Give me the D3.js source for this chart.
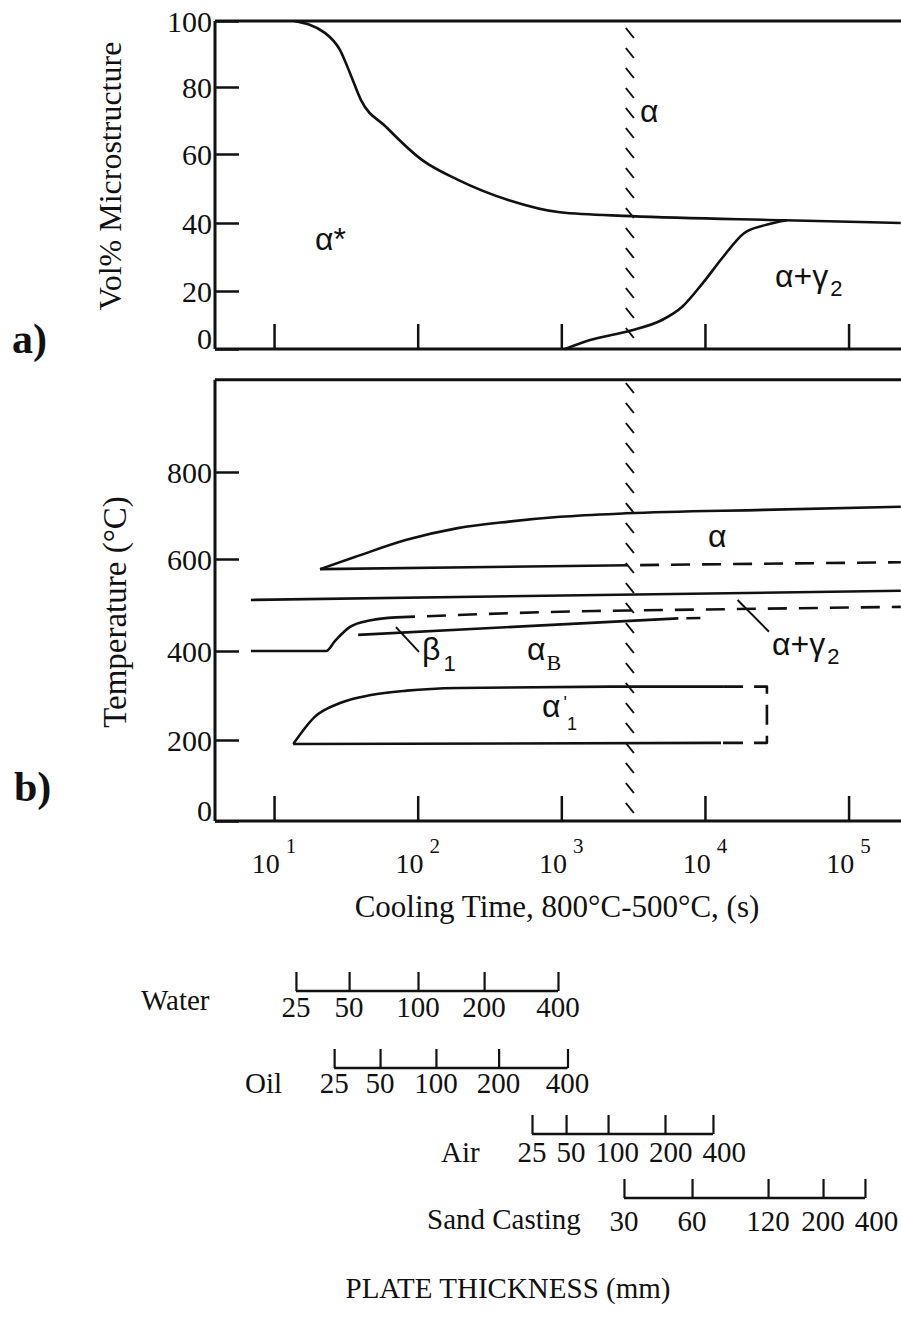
<!DOCTYPE html>
<html><head><meta charset="utf-8">
<script src="https://cdn.jsdelivr.net/npm/d3@7"></script>
<style>body{margin:0;background:#fff}</style>
</head><body>
<svg id="chart" width="901" height="1320"></svg>
<script>
// ---------------- data ----------------
const coolingTicks = [10, 100, 1000, 10000, 100000];
const coolingTickExponents = [1, 2, 3, 4, 5];
const volTicks = [0, 20, 40, 60, 80, 100];
const tempTicks = [0, 200, 400, 600, 800];
const markerTime = 3000;              // hatched vertical line (s)

// panel a) vol% microstructure
const alphaStarTime = [13.8, 22.6, 28.8, 33.8, 40.3, 60.2, 107, 191, 432, 979, 3055, 36000, 231000];
const alphaStarVol  = [100, 96.4, 91.2, 84.2, 76.1, 68.1, 58.3, 52.5, 46.6, 43.1, 42.0, 40.8, 40.0];
const alphaGammaTime = [1062, 1585, 3055, 5020, 6920, 9690, 13360, 18700, 25800, 37200];
const alphaGammaVol  = [0, 3.1, 6.4, 10.0, 14.5, 22.4, 30, 37, 39.3, 40.8];

// panel b) temperature
const alphaUpperTime = [20.9, 36.9, 83.7, 190, 431, 979, 2820, 25700, 231000];
const alphaUpperTemp = [578, 605, 644, 671, 686, 697, 705, 713, 720];
const alphaLowerTime = [20.9, 2150];
const alphaLowerTemp = [578, 586];
const alphaLowerDashTime = [2150, 231000];
const alphaLowerDashTemp = [586, 593];
const upperBainiteTime = [6.9, 231000];
const upperBainiteTemp = [511, 531];
const beta1Time = [6.9, 23, 26.6, 33.6, 47.3, 70.6];
const beta1Temp = [400, 400, 422, 452, 467, 473];
const alphaGammaDashTime = [70.6, 1690, 4990, 231000];
const alphaGammaDashTemp = [473, 487, 489, 496];
const alphaBTime = [38.5, 6530];
const alphaBTemp = [435, 471];
const alphaBDashTime = [6530, 10200];
const alphaBDashTemp = [471, 472];
const martUpperTime = [13.6, 19.2, 28.8, 47.3, 83.8, 191, 2220, 13370];
const martUpperTemp = [190, 252, 283, 301, 311, 317, 320, 320];
const martLowerTime = [13.6, 12940];
const martLowerTemp = [190, 193];
const martBoxTime = [13370, 27000, 27000, 12940];
const martBoxTemp = [320, 320, 193, 193];
const beta1LeaderTime = [70.6, 102];
const beta1LeaderTemp = [452, 398];
const agLeaderTime = [16870, 27900];
const agLeaderTemp = [511, 442];

// plate thickness scales (mm -> equivalent cooling time, s)
const waterMM = [25, 50, 100, 200, 400];
const waterTime = [14.2, 33.3, 100.5, 290, 948];
const oilMM = [25, 50, 100, 200, 400];
const oilTime = [26.2, 54.7, 134, 366, 1104];
const airMM = [25, 50, 100, 200, 400];
const airTime = [625, 1079, 2115, 5270, 11370];
const sandMM = [30, 60, 120, 200, 400];
const sandTime = [2730, 8130, 27500, 66400, 130000];

// ---------------- layout ----------------
const svg = d3.select("#chart");
const SERIF = "'Liberation Serif','Times New Roman',serif";
const GREEK = "'Liberation Sans',Arial,sans-serif";
const INK = "#111";

const x = d3.scaleLog().domain([3.88, 231700]).range([215, 901]);
const yA = d3.scaleLinear().domain(volTicks).range([349, 291, 223, 154, 87, 21]);
const yB = d3.scaleLinear().domain(tempTicks).range([821, 740, 651, 559, 472]);
const bTop = 1012;

const zip = (a, b) => a.map((v, i) => [v, b[i]]);

function frame(g, y, topVal, botVal, ticks) {
  g.append("line").attr("x1", x.range()[0]).attr("x2", x.range()[1])
    .attr("y1", y(topVal)).attr("y2", y(topVal)).attr("stroke", INK).attr("stroke-width", 3);
  const ax = d3.axisLeft(y).tickValues(ticks).tickSizeInner(-24).tickSizeOuter(0).tickPadding(3);
  const ag = g.append("g").attr("transform", `translate(${x.range()[0]},0)`).call(ax);
  ag.select(".domain").remove();
  ag.append("line").attr("y1", y(topVal)).attr("y2", y(botVal)).attr("stroke", INK).attr("stroke-width", 3);
  ag.selectAll(".tick line").attr("stroke", INK).attr("stroke-width", 2.5);
  ag.selectAll(".tick text").attr("font-family", SERIF).attr("font-size", 30).attr("fill", INK)
    .attr("dy", d => d === 0 ? "-0.02em" : "0.36em");
  const bx = d3.axisBottom(x).tickValues(coolingTicks).tickFormat("").tickSizeInner(-25).tickSizeOuter(0);
  const bg = g.append("g").attr("transform", `translate(0,${y(botVal)})`).call(bx);
  bg.select(".domain").remove();
  bg.append("line").attr("x1", x.range()[0]).attr("x2", x.range()[1]).attr("stroke", INK).attr("stroke-width", 3);
  bg.selectAll(".tick line").attr("stroke", INK).attr("stroke-width", 2.5);
}

function hatch(g, t, y0, y1) {
  const cx = x(t);
  g.append("g").selectAll("line").data(d3.range(y0, y1 - 6, 20)).join("line")
    .attr("x1", cx - 4).attr("y1", d => d).attr("x2", cx + 4).attr("y2", d => Math.min(d + 10, y1))
    .attr("stroke", INK).attr("stroke-width", 2);
}

function curve(g, y, ts, vs, opts = {}) {
  const line = d3.line().x(d => x(d[0])).y(d => y(d[1]))
    .curve(opts.linear ? d3.curveLinear : d3.curveMonotoneX);
  g.append("path").datum(zip(ts, vs)).attr("d", line)
    .attr("fill", "none").attr("stroke", INK)
    .attr("stroke-width", opts.w || 2.6)
    .attr("stroke-dasharray", opts.dash || null)
    .attr("stroke-linejoin", "round");
}

function label(g, px, py, parts, size) {
  const t = g.append("text").attr("x", px).attr("y", py)
    .attr("font-family", GREEK).attr("font-size", size || 32).attr("fill", INK);
  parts.forEach(p => {
    const s = t.append("tspan").text(p.t);
    if (p.dx !== undefined) s.attr("dx", p.dx);
    if (p.dy !== undefined) s.attr("dy", p.dy);
    if (p.size) s.attr("font-size", p.size);
    if (p.font) s.attr("font-family", p.font);
  });
  return t;
}

// ---------------- panel a ----------------
const ga = svg.append("g");
frame(ga, yA, 100, 0, volTicks);
curve(ga, yA, alphaStarTime, alphaStarVol);
curve(ga, yA, alphaGammaTime, alphaGammaVol);
hatch(ga, markerTime, 28, 349);
label(ga, 640, 122, [{t: "α"}]);
label(ga, 315, 250, [{t: "α*"}]);
label(ga, 775, 287, [{t: "α+γ"}, {t: "2", size: 22, dx: 2, dy: 9}]);
ga.append("text").attr("transform", "translate(121,176) rotate(-90)")
  .attr("text-anchor", "middle").attr("font-family", SERIF).attr("font-size", 32).attr("fill", INK)
  .text("Vol% Microstructure");
ga.append("text").attr("x", 12).attr("y", 353).attr("font-family", SERIF).attr("font-weight", "bold")
  .attr("font-size", 42).attr("fill", INK).text("a)");

// ---------------- panel b ----------------
const gb = svg.append("g");
frame(gb, yB, bTop, 0, tempTicks);
curve(gb, yB, alphaUpperTime, alphaUpperTemp);
curve(gb, yB, alphaLowerTime, alphaLowerTemp, {linear: true});
curve(gb, yB, alphaLowerDashTime, alphaLowerDashTemp, {linear: true, dash: "19,12"});
curve(gb, yB, upperBainiteTime, upperBainiteTemp, {linear: true});
curve(gb, yB, beta1Time, beta1Temp);
curve(gb, yB, alphaGammaDashTime, alphaGammaDashTemp, {dash: "19,12"});
curve(gb, yB, alphaBTime, alphaBTemp, {linear: true});
curve(gb, yB, alphaBDashTime, alphaBDashTemp, {linear: true, dash: "0,8,14,30"});
curve(gb, yB, martUpperTime, martUpperTemp);
curve(gb, yB, martLowerTime, martLowerTemp, {linear: true});
curve(gb, yB, martBoxTime, martBoxTemp, {linear: true, dash: "20,11"});
curve(gb, yB, beta1LeaderTime, beta1LeaderTemp, {linear: true, w: 2});
curve(gb, yB, agLeaderTime, agLeaderTemp, {linear: true, w: 2});
hatch(gb, markerTime, 383, 821);

label(gb, 708, 547, [{t: "α"}]);
label(gb, 422, 660, [{t: "β"}, {t: "1", size: 22, dx: 3, dy: 11}]);
label(gb, 527, 660, [{t: "α"}, {t: "B", size: 22, dx: 1, dy: 10, font: SERIF}]);
label(gb, 772, 655, [{t: "α+γ"}, {t: "2", size: 22, dx: 2, dy: 9}]);
label(gb, 542, 717, [{t: "α"}, {t: "'", size: 18, dx: 3, dy: -8}, {t: "1", size: 18, dx: 0, dy: 21}]);

// x tick labels 10^n
const xl = gb.append("g").selectAll("text").data(coolingTickExponents).join("text")
  .attr("x", d => x(Math.pow(10, d))).attr("y", 873).attr("text-anchor", "middle")
  .attr("font-family", SERIF).attr("font-size", 28).attr("fill", INK);
xl.append("tspan").text("10");
xl.append("tspan").attr("dx", 6).attr("dy", -20).attr("font-size", 21).text(d => d);

gb.append("text").attr("transform", "translate(126,612) rotate(-90)")
  .attr("text-anchor", "middle").attr("font-family", SERIF).attr("font-size", 33).attr("fill", INK)
  .text("Temperature (°C)");
gb.append("text").attr("x", 14).attr("y", 801).attr("font-family", SERIF).attr("font-weight", "bold")
  .attr("font-size", 42).attr("fill", INK).text("b)");
gb.append("text").attr("x", 557).attr("y", 917).attr("text-anchor", "middle")
  .attr("font-family", SERIF).attr("font-size", 31).attr("fill", INK)
  .text("Cooling Time, 800°C-500°C, (s)");

// ---------------- plate thickness scales ----------------
const plates = [
  {name: "Water", mm: waterMM, t: waterTime, lineY: 991, labelX: 141, labelY: 1010, numY: 1017},
  {name: "Oil", mm: oilMM, t: oilTime, lineY: 1068, labelX: 245, labelY: 1093, numY: 1093},
  {name: "Air", mm: airMM, t: airTime, lineY: 1134, labelX: 441, labelY: 1162, numY: 1162},
  {name: "Sand Casting", mm: sandMM, t: sandTime, lineY: 1198, labelX: 427, labelY: 1229, numY: 1231}
];
const gp = svg.append("g");
plates.forEach(p => {
  const g = gp.append("g");
  const ax = d3.axisTop(x).tickValues(p.t).tickFormat("").tickSizeInner(19).tickSizeOuter(0);
  const ag = g.append("g").attr("transform", `translate(0,${p.lineY})`).call(ax);
  ag.select(".domain").attr("d", `M${x(p.t[0])},0H${x(p.t[p.t.length - 1])}`)
    .attr("stroke", INK).attr("stroke-width", 2.6);
  ag.selectAll(".tick line").attr("stroke", INK).attr("stroke-width", 2.2);
  g.append("text").attr("x", p.labelX).attr("y", p.labelY).attr("font-family", SERIF)
    .attr("font-size", 29).attr("fill", INK).text(p.name);
  const nums = g.selectAll("text.num").data(p.mm).join("text").attr("class", "num")
    .attr("y", p.numY).attr("text-anchor", "middle").attr("font-family", SERIF)
    .attr("font-size", 29).attr("fill", INK).text(d => d);
  // position under ticks, nudging right to keep a small gap between labels
  let prevX = -1e9, prevW = 0;
  nums.each(function (d, i) {
    const w = this.getComputedTextLength();
    let cx = x(p.t[i]);
    if (i > 0) cx = Math.max(cx, prevX + (prevW + w) / 2 + 10);
    d3.select(this).attr("x", cx);
    prevX = cx; prevW = w;
  });
});
svg.append("text").attr("x", 508).attr("y", 1298).attr("text-anchor", "middle")
  .attr("font-family", SERIF).attr("font-size", 29).attr("fill", INK).text("PLATE THICKNESS (mm)");
</script>
</body></html>
